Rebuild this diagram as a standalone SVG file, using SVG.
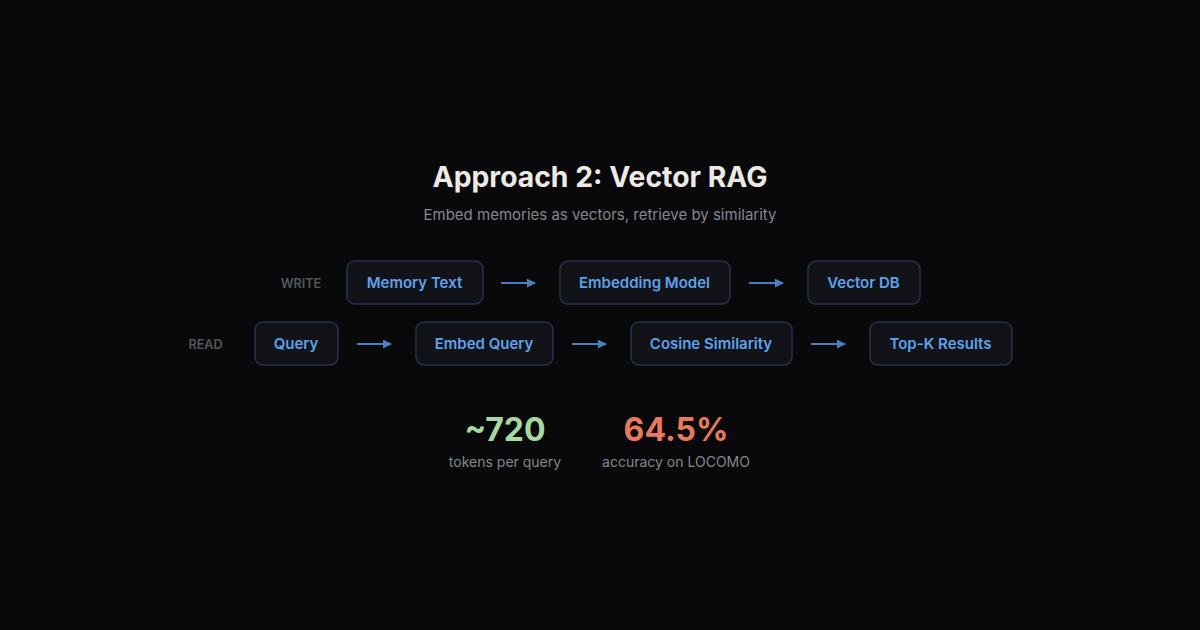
<svg xmlns="http://www.w3.org/2000/svg" width="1200" height="630" viewBox="0 0 1200 630">
<defs>
<style>
.node rect{fill:#111318;stroke:#26324a;stroke-width:1.5}
.node text{font-family:Inter,"Liberation Sans",sans-serif;font-size:15px;font-weight:600;fill:#5ea2ec;text-anchor:middle}
.lane{font-family:Inter,"Liberation Sans",sans-serif;font-size:12.6px;font-weight:600;fill:#55565c;text-anchor:middle}
.conn line{stroke:#4a7fc0;stroke-width:2}
.cap{font-family:Inter,"Liberation Sans",sans-serif;font-size:14px;fill:#85868d;text-anchor:middle}
.big{font-family:Inter,"Liberation Sans",sans-serif;font-size:32px;font-weight:700;text-anchor:middle}
</style>
<marker id="ah" viewBox="0 0 10 10" refX="9" refY="5" markerWidth="9" markerHeight="9" markerUnits="userSpaceOnUse" orient="auto">
<path d="M0,0 L10,5 L0,10 z" fill="#4a7fc0"/>
</marker>
</defs>
<rect width="1200" height="630" fill="#09090b"/>
<text x="600" y="187" font-family="Inter,'Liberation Sans',sans-serif" font-size="28.3" font-weight="700" fill="#edeae3" text-anchor="middle">Approach 2: Vector RAG</text>
<text x="600" y="220" font-family="Inter,'Liberation Sans',sans-serif" font-size="15" fill="#85868d" text-anchor="middle">Embed memories as vectors, retrieve by similarity</text>
<text class="lane" x="301" y="288">WRITE</text>
<text class="lane" x="205.5" y="349">READ</text>
<g id="memory-text" class="node"><rect x="347" y="261" width="136" height="43" rx="8"/><text x="414.5" y="288">Memory Text</text></g>
<g id="embedding-model" class="node"><rect x="560" y="261" width="170" height="43" rx="8"/><text x="644.5" y="288">Embedding Model</text></g>
<g id="vector-db" class="node"><rect x="808" y="261" width="112" height="43" rx="8"/><text x="863.5" y="288">Vector DB</text></g>
<g id="query" class="node"><rect x="255" y="322" width="83" height="43" rx="8"/><text x="296" y="349">Query</text></g>
<g id="embed-query" class="node"><rect x="416" y="322" width="137" height="43" rx="8"/><text x="484" y="349">Embed Query</text></g>
<g id="cosine-similarity" class="node"><rect x="631" y="322" width="161" height="43" rx="8"/><text x="711" y="349">Cosine Similarity</text></g>
<g id="top-k" class="node"><rect x="870" y="322" width="142" height="43" rx="8"/><text x="940.5" y="349">Top-K Results</text></g>
<g id="connectors" class="conn">
<line x1="501" y1="283" x2="535" y2="283" marker-end="url(#ah)"/>
<line x1="749" y1="283" x2="783" y2="283" marker-end="url(#ah)"/>
<line x1="357" y1="344" x2="391" y2="344" marker-end="url(#ah)"/>
<line x1="572" y1="344" x2="606" y2="344" marker-end="url(#ah)"/>
<line x1="811" y1="344" x2="845" y2="344" marker-end="url(#ah)"/>
</g>
<text class="big" x="505" y="441" fill="#a6d8a0">~720</text>
<text class="cap" x="505" y="467">tokens per query</text>
<text class="big" x="676" y="441" fill="#e77a5c">64.5%</text>
<text class="cap" x="676" y="467">accuracy on LOCOMO</text>
</svg>
